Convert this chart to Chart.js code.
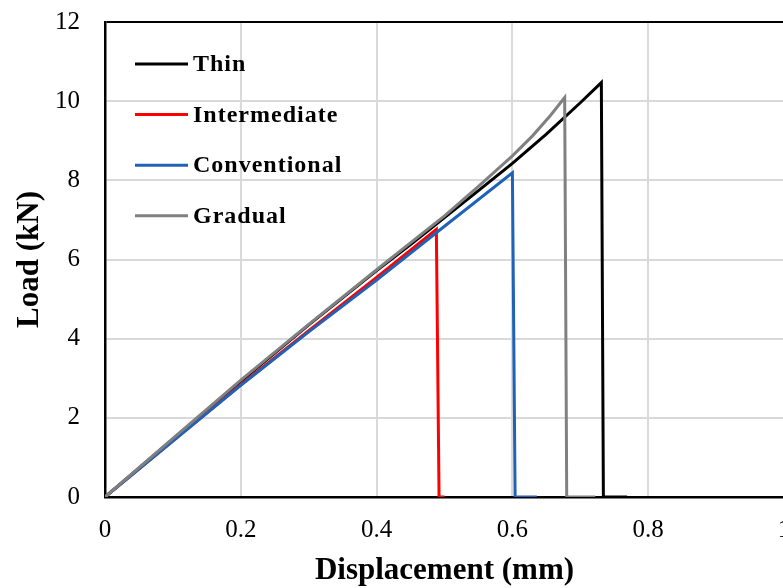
<!DOCTYPE html>
<html>
<head>
<meta charset="utf-8">
<script src="https://cdn.jsdelivr.net/npm/chart.js@4.4.1/dist/chart.umd.min.js"></script>
<style>
  html, body { margin: 0; padding: 0; background: #fff; overflow: hidden; }
  #wrap { width: 810px; height: 588px; }
</style>
</head>
<body>
<div id="wrap"><canvas id="loadChart" width="810" height="588"></canvas></div>
<script>
// series names and colours
var seriesNames = ['Thin', 'Intermediate', 'Conventional', 'Gradual'];
var seriesColors = ['#000000', '#ff0000', '#1f62b8', '#808080'];

// displacement (mm) / load (kN)
var thinX = [0, 0.1, 0.2, 0.3, 0.4, 0.45, 0.5, 0.55, 0.6, 0.65, 0.7, 0.731, 0.734, 0.769];
var thinY = [0, 1.46, 2.92, 4.35, 5.72, 6.38, 7.06, 7.74, 8.43, 9.17, 9.96, 10.47, 0, 0];

var intermediateX = [0, 0.1, 0.2, 0.3, 0.4, 0.488, 0.492, 0.5];
var intermediateY = [0, 1.42, 2.84, 4.2, 5.55, 6.76, 0, 0];

var conventionalX = [0, 0.1, 0.2, 0.3, 0.4, 0.5, 0.6, 0.604, 0.636];
var conventionalY = [0, 1.41, 2.82, 4.17, 5.48, 6.84, 8.19, 0, 0];

var gradualX = [0, 0.1, 0.2, 0.3, 0.4, 0.5, 0.55, 0.6, 0.63, 0.656, 0.677, 0.68, 0.722];
var gradualY = [0, 1.48, 2.95, 4.36, 5.74, 7.1, 7.85, 8.62, 9.13, 9.64, 10.09, 0, 0];

// axis ticks
var xTicks = [0, 0.2, 0.4, 0.6, 0.8, 1];
var yTicks = [0, 2, 4, 6, 8, 10, 12];

function pts(xs, ys) {
  return xs.map(function (x, i) { return { x: x, y: ys[i] }; });
}

var serif = "'Times New Roman', 'Liberation Serif', serif";
var allX = [thinX, intermediateX, conventionalX, gradualX];
var allY = [thinY, intermediateY, conventionalY, gradualY];
var drawOrder = [3, 2, 1, 0]; // gradual drawn on top

var datasets = seriesNames.map(function (name, i) {
  return {
    label: name,
    data: pts(allX[i], allY[i]),
    borderColor: seriesColors[i],
    backgroundColor: seriesColors[i],
    borderWidth: 3,
    pointRadius: 0,
    tension: 0,
    fill: false,
    order: drawOrder[i]
  };
});

// legend drawn inside the plot, top-left
var insideLegend = {
  id: 'insideLegend',
  afterDraw: function (chart) {
    var ctx = chart.ctx;
    var a = chart.chartArea;
    ctx.save();
    ctx.font = 'bold 24px ' + serif;
    if ('letterSpacing' in ctx) ctx.letterSpacing = '1px';
    ctx.textBaseline = 'middle';
    ctx.textAlign = 'left';
    seriesNames.forEach(function (name, i) {
      var y = a.top + 42 + i * 50.6;
      ctx.strokeStyle = seriesColors[i];
      ctx.lineWidth = 3;
      ctx.beginPath();
      ctx.moveTo(a.left + 30, y);
      ctx.lineTo(a.left + 83, y);
      ctx.stroke();
      ctx.fillStyle = '#000';
      ctx.fillText(name, a.left + 88, y + 1);
    });
    ctx.restore();
  }
};

new Chart(document.getElementById('loadChart'), {
  type: 'line',
  data: { datasets: datasets },
  options: {
    responsive: false,
    animation: false,
    layout: { padding: { left: 0, top: 22, right: 26, bottom: 0 } },
    plugins: { legend: { display: false }, tooltip: { enabled: false } },
    scales: {
      x: {
        type: 'linear',
        min: 0,
        max: 1,
        afterBuildTicks: function (s) { s.ticks = xTicks.map(function (v) { return { value: v }; }); },
        afterFit: function (s) { s.height = 91; },
        grid: {
          drawTicks: false,
          lineWidth: 2,
          color: function (c) { return c.tick && c.tick.value === 0 ? '#000' : '#d9d9d9'; }
        },
        border: { color: '#000', width: 2.5 },
        ticks: {
          padding: 18,
          color: '#000',
          font: { family: serif, size: 25 },
          callback: function (v) { return String(v); }
        },
        title: {
          display: true,
          text: 'Displacement (mm)',
          color: '#000',
          font: { family: serif, size: 31, weight: 'bold' },
          padding: { top: 0, bottom: -2 }
        }
      },
      y: {
        min: 0,
        max: 12,
        afterBuildTicks: function (s) { s.ticks = yTicks.map(function (v) { return { value: v }; }); },
        afterFit: function (s) { s.width = 105; s.paddingTop = 0; s.paddingBottom = 0; },
        grid: {
          drawTicks: false,
          lineWidth: 2,
          color: function (c) { return c.tick && (c.tick.value === 12 || c.tick.value === 0) ? '#000' : '#d9d9d9'; }
        },
        border: { color: '#000', width: 2.5 },
        ticks: {
          padding: 25,
          color: '#000',
          font: { family: serif, size: 25 },
          callback: function (v) { return String(v); }
        },
        title: {
          display: true,
          text: 'Load (kN)',
          color: '#000',
          font: { family: serif, size: 31, weight: 'bold' },
          padding: { top: 11, bottom: 0 }
        }
      }
    }
  },
  plugins: [insideLegend]
});
</script>
</body>
</html>
